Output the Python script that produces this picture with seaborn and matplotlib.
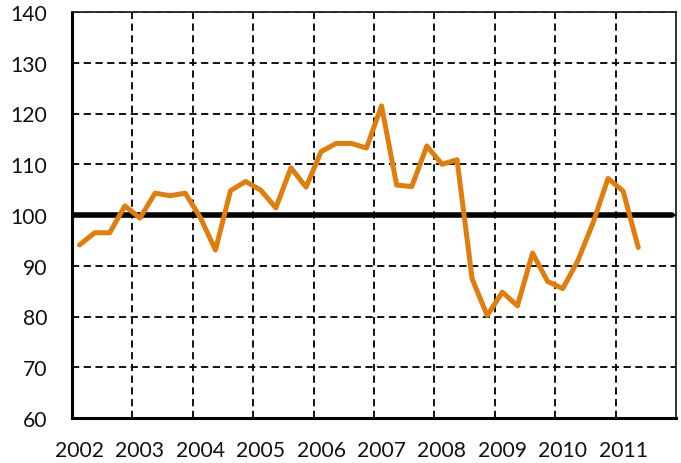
import matplotlib
matplotlib.use("Agg")
import matplotlib.pyplot as plt
import seaborn as sns
import pandas as pd
import numpy as np

years = ["2002", "2003", "2004", "2005", "2006", "2007", "2008", "2009", "2010", "2011"]
values = [94.1, 96.5, 96.5, 101.8, 99.4, 104.3, 103.8, 104.3,
          99.5, 93.1, 104.8, 106.6, 104.9, 101.4, 109.3, 105.5,
          112.5, 114.1, 114.1, 113.2, 121.5, 105.9, 105.6, 113.6,
          110.0, 110.9, 87.4, 80.2, 84.8, 82.1, 92.5, 86.9,
          85.5, 91.0, 98.4, 107.2, 104.7, 93.6]
n_categories = 40
baseline = 100

sns.set_theme(style="white")
plt.rcParams['font.family'] = ['Lato', 'DejaVu Sans']

df = pd.DataFrame({"q": np.arange(len(values)), "v": values})

fig = plt.figure(figsize=(6.81, 4.64), dpi=100)
ax = fig.add_axes([72/681, 1 - 419/464, (676-72)/681, (419-13)/464])

# grid
ax.set_xlim(-0.5, n_categories - 0.5)
ax.set_ylim(60, 140)
ax.set_yticks(np.arange(60, 141, 10))
ax.set_xticks(np.arange(0, n_categories, 4))
ax.set_xticklabels(years)
ax.set_xticks(np.arange(3.5, n_categories - 1, 4), minor=True)
ax.grid(False)
ax.xaxis.grid(True, which='minor', color='black', linestyle=(0, (4, 2.5)), linewidth=1.3)
ax.yaxis.grid(True, which='major', color='black', linestyle=(0, (4, 2.5)), linewidth=1.3)
ax.set_axisbelow(True)

ax.axhline(baseline, color='black', linewidth=4, xmin=0, xmax=0.993, zorder=2)

sns.lineplot(data=df, x="q", y="v", ax=ax, color="#E07D0C", linewidth=3.6, zorder=3)

for side in ["left", "bottom"]:
    ax.spines[side].set_color("black")
    ax.spines[side].set_linewidth(2.2)
for side in ["top", "right"]:
    ax.spines[side].set_color("#222222")
    ax.spines[side].set_linewidth(1.3)

ax.tick_params(axis='both', which='both', length=0, labelsize=15.2, colors='#111111')
ax.tick_params(axis='y', pad=18)
ax.tick_params(axis='x', pad=16)
ax.set_xlabel("")
ax.set_ylabel("")

fig.savefig("out.png", dpi=100)
